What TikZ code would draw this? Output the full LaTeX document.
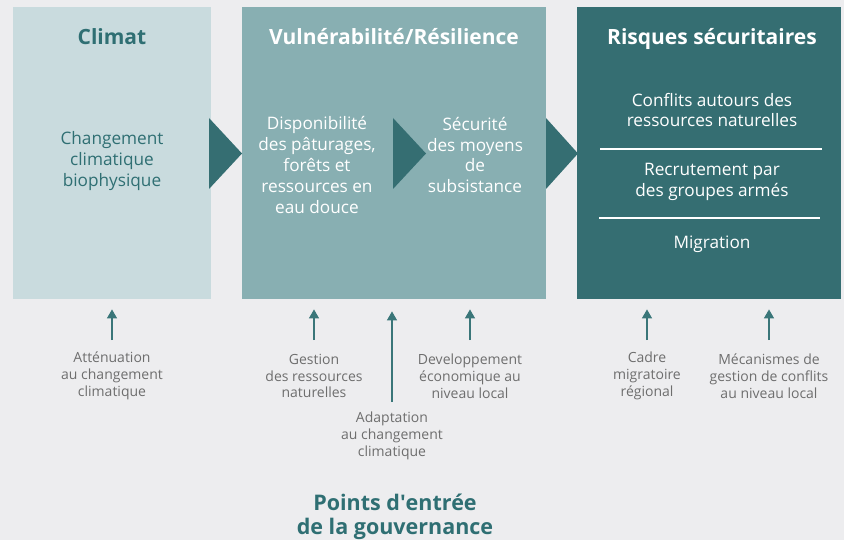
\documentclass[tikz,border=0pt]{standalone}
\usepackage{fontspec}
\setmainfont{Open Sans}
\newfontfamily\plainos{Open Sans}
\usetikzlibrary{arrows.meta}
\definecolor{bg}{HTML}{EDEDEF}
\definecolor{cA}{HTML}{C9DBDE}
\definecolor{cB}{HTML}{88AFB2}
\definecolor{cC}{HTML}{356E72}
\definecolor{teal}{HTML}{2F6F73}
\definecolor{arrc}{HTML}{3A7679}
\definecolor{grayt}{HTML}{6E6E6E}
\tikzset{
  box/.style={inner sep=0pt, anchor=north west, draw=none},
  title/.style={font=\fontsize{21}{24}\selectfont\bfseries, inner sep=0pt, anchor=base},
  body/.style={font=\fontsize{17.2}{20.8}\selectfont, align=center, inner sep=0pt},
  note/.style={font=\fontsize{14}{16.8}\selectfont, align=center, inner sep=0pt, text=grayt},
  tri/.style={fill=cC, draw=none},
  uparr/.style={draw=arrc, line width=1.4pt, -{Triangle[width=10pt,length=9pt]}},
  sep/.style={draw=white, line width=1.1pt}
}
\begin{document}
\begin{tikzpicture}[x=1pt,y=-1pt]
\useasboundingbox (0,0) rectangle (844,540);
\fill[bg] (0,0) rectangle (844,540);
% boxes
\node[box, fill=cA, minimum width=198pt, minimum height=292pt] (climat) at (13,7) {};
\node[box, fill=cB, minimum width=304pt, minimum height=292pt] (vuln) at (242,7) {};
\node[box, fill=cC, minimum width=264pt, minimum height=292pt] (risq) at (577,7) {};
% triangles
\fill[tri] (209,118) -- (242,153.5) -- (209,189) -- cycle;
\fill[tri] (393,118) -- (426,153.5) -- (393,189) -- cycle;
\fill[tri] (546,118) -- (578,153.5) -- (546,189) -- cycle;
% titles
\node[title, text=teal] (tA) at (112,44.5) {Climat};
\node[title, text=white] (tB) at (394,44.5) {Vulnérabilité/Résilience};
\node[title, text=white] (tC) at (712,44.5) {Risques sécuritaires};
% body texts
\node[body, text=teal] (bA) at (112,161) {Changement\\climatique\\biophysique};
\node[body, text=white] (bB1) at (317,165) {Disponibilité\\des pâturages,\\forêts et\\ressources en\\eau douce};
\node[body, text=white] (bB2) at (475,155) {Sécurité\\des moyens\\de\\subsistance};
\node[body, text=white] (bC1) at (712,110) {Conflits autours des\\ressources naturelles};
\node[body, text=white] (bC2) at (712,182) {Recrutement par\\des groupes armés};
\node[body, text=white] (bC3) at (712,244) {Migration};
\draw[sep] (600,149) -- (822,149);
\draw[sep] (599,218) -- (820,218);
% notes
\node[note] (n1) at (112,376) {Atténuation\\au changement\\climatique};
\node[note] (n2) at (314,376) {Gestion\\des ressources\\naturelles};
\node[note] (n3) at (392,436) {Adaptation\\au changement\\climatique};
\node[note] (n4) at (470,376) {Developpement\\économique au\\niveau local};
\node[note] (n5) at (647,376) {Cadre\\migratoire\\régional};
\node[note] (n6) at (769,376) {Mécanismes de\\gestion de conflits\\au niveau local};
% arrows
\coordinate (a1) at (112,340);
\coordinate (a2) at (314,340);
\coordinate (a3) at (392,402);
\coordinate (a4) at (470,340);
\coordinate (a5) at (647,340);
\coordinate (a6) at (769,340);
\draw[uparr, shorten >=10pt] (a1) -- (a1 |- climat.south);
\draw[uparr, shorten >=10pt] (a2) -- (a2 |- vuln.south);
\draw[uparr, shorten >=12pt] (a3) -- (a3 |- vuln.south);
\draw[uparr, shorten >=10pt] (a4) -- (a4 |- vuln.south);
\draw[uparr, shorten >=10pt] (a5) -- (a5 |- risq.south);
\draw[uparr, shorten >=10pt] (a6) -- (a6 |- risq.south);
% footer
\node[font=\fontsize{21.5}{24}\selectfont\bfseries, text=teal, align=center, inner sep=0pt] (pe) at (395,517) {Points d{\plainos '}entrée\\de la gouvernance};
\end{tikzpicture}
\end{document}
